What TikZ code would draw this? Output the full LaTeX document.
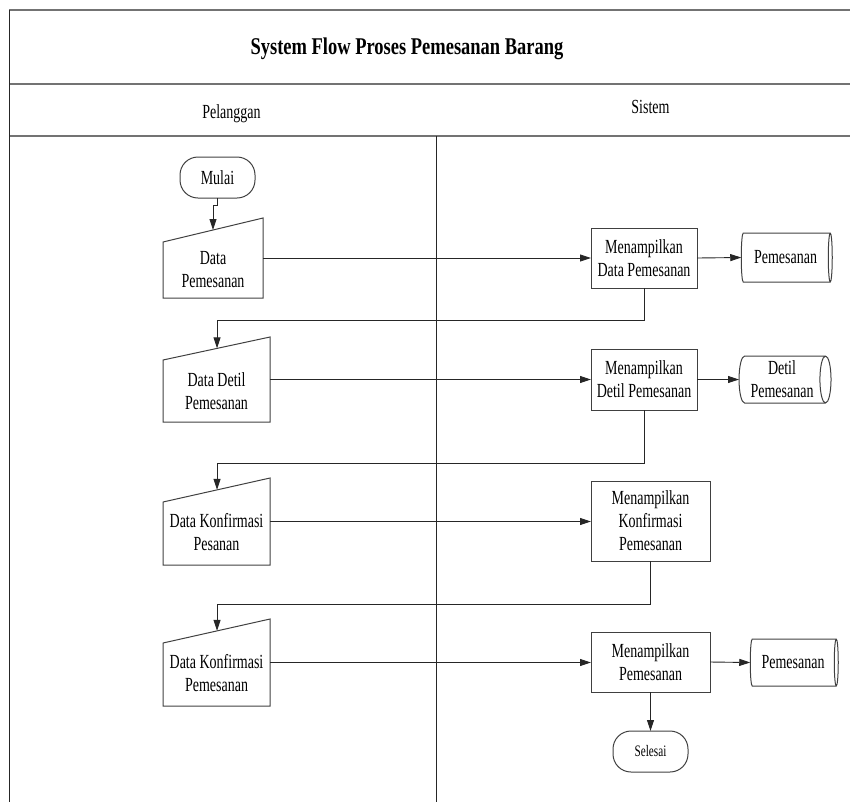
\documentclass[tikz,border=0pt]{standalone}
\usepackage{fontspec}
\setmainfont{Liberation Serif}
\newfontfamily\titlefont[FakeStretch=0.77]{Liberation Serif}
\newfontfamily\bodyfont[FakeStretch=0.70]{Liberation Serif}
\usetikzlibrary{arrows.meta,shapes.geometric,calc}
\newcommand\maninoutline[2]{\draw[shapeline] (#1.south west) -- (#1.south east) -- (#1.north east) -- ([yshift=-#2pt]#1.north west) -- cycle;}
\begin{document}
\begin{tikzpicture}[x=1pt,y=-1pt,
 frameline/.style={draw=black!55, line width=1.6pt},
 lane/.style={draw=black!85, line width=0.9pt},
 shapeline/.style={draw=black!75, line width=1pt},
 conn/.style={draw=black!85, line width=0.9pt},
 arr/.style={conn, -{Triangle[length=11pt,width=7pt]}},
 bodytext/.style={font=\bodyfont\fontsize{20}{23}\selectfont},
 txt/.style={bodytext, align=center, inner sep=0pt},
 procbox/.style={shapeline, bodytext, rectangle, inner sep=0pt, outer sep=0pt, align=center},
 maninbox/.style={rectangle, inner sep=0pt, outer sep=0pt},
 term/.style={shapeline, rectangle, rounded corners=18pt, minimum width=75pt, minimum height=41pt, inner sep=0pt, outer sep=0pt},
 store/.style={shapeline, bodytext, cylinder, shape border rotate=0, aspect=0.3, inner sep=0pt, outer sep=0pt, align=center}
]
\useasboundingbox (0,0) rectangle (850,801);
% frame
\draw[frameline] (9,10) -- (855,10);
\draw[frameline] (9,84) -- (855,84);
\draw[frameline] (9,136) -- (855,136);
\draw[lane] (9,10) -- (9,805);
\draw[lane] (436,136) -- (436,805);
\node[font=\titlefont\bfseries\fontsize{24}{28}\selectfont, anchor=base, inner sep=0pt] (title) at (407,54) {System Flow Proses Pemesanan Barang};
\node[bodytext, anchor=base, inner sep=0pt] (h1) at (231.5,118) {Pelanggan};
\node[bodytext, anchor=base, inner sep=0pt] (h2) at (650.5,113) {Sistem};

% terminals
\node[term, bodytext] (m) at (217.5,177.5) {Mulai};
\node[term, font=\bodyfont\fontsize{16}{19}\selectfont] (s) at (650.5,751.5) {Selesai};

% manual inputs
\node[maninbox, minimum width=100pt, minimum height=80pt] (d1) at (213,258) {};
\maninoutline{d1}{24}
\node[txt] (d1t) at (213,270) {Data\\Pemesanan};
\node[maninbox, minimum width=107pt, minimum height=85pt] (d2) at (216.5,379.5) {};
\maninoutline{d2}{23}
\node[txt] (d2t) at (216.5,391) {Data Detil\\Pemesanan};
\node[maninbox, minimum width=107pt, minimum height=87pt] (d3) at (216.5,521.5) {};
\maninoutline{d3}{24}
\node[txt] (d3t) at (216.5,532) {Data Konfirmasi\\Pesanan};
\node[maninbox, minimum width=107pt, minimum height=87pt] (d4) at (216.5,662.5) {};
\maninoutline{d4}{24}
\node[txt] (d4t) at (216.5,673) {Data Konfirmasi\\Pemesanan};

\coordinate (d1in) at ($([yshift=-24pt]d1.north west)!0.5!(d1.north east)$);
\coordinate (d2in) at ($([yshift=-23pt]d2.north west)!0.505!(d2.north east)$);
\coordinate (d3in) at ($([yshift=-24pt]d3.north west)!0.505!(d3.north east)$);
\coordinate (d4in) at ($([yshift=-24pt]d4.north west)!0.505!(d4.north east)$);

% processes
\node[procbox, minimum width=106pt, minimum height=60pt] (p1) at (644,258) {Menampilkan\\Data Pemesanan};
\node[procbox, minimum width=106pt, minimum height=61pt] (p2) at (644,379.5) {Menampilkan\\Detil Pemesanan};
\node[procbox, minimum width=119pt, minimum height=80pt] (p3) at (650.5,521) {Menampilkan\\Konfirmasi\\Pemesanan};
\node[procbox, minimum width=119pt, minimum height=60pt] (p4) at (650.5,662) {Menampilkan\\Pemesanan};

% stores (for this rotation, minimum height runs along the axis)
\node[store, minimum height=91pt, minimum width=49pt] (c1) at (785.5,257.5) {Pemesanan};
\node[store, minimum height=92pt, minimum width=47pt] (c2) at (782,379.5) {Detil\\Pemesanan};
\node[store, minimum height=88pt, minimum width=47pt] (c4) at (793,662.5) {Pemesanan};

% connectors
\draw[arr] (m.south) -- ++(0,7) -| (d1in);
\draw[arr] (d1.east) -- (p1.west);
\draw[arr] (p1.east) -- (c1.west);
\draw[arr] (p1.south) -- ++(0,32) -| (d2in);
\draw[arr] (d2.east) -- (p2.west);
\draw[arr] (p2.east) -- (c2.west);
\draw[arr] (p2.south) -- ++(0,53) -| (d3in);
\draw[arr] (d3.east) -- (p3.west |- d3.east);
\draw[arr] (p3.south) -- ++(0,43) -| (d4in);
\draw[arr] (d4.east) -- (p4.west |- d4.east);
\draw[arr] (p4.east) -- (c4.west);
\draw[arr] (p4.south) -- (s.north);
\end{tikzpicture}
\end{document}
